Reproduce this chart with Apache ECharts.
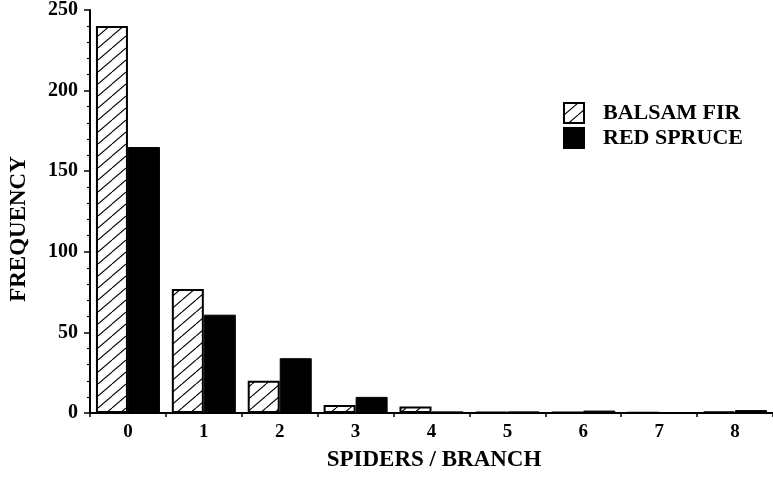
<!DOCTYPE html>
<html>
<head>
<meta charset="utf-8">
<script src="https://cdn.jsdelivr.net/npm/echarts@6/dist/echarts.min.js"></script>
<style>
  html, body { margin: 0; padding: 0; background: #fff; }
  #chart { width: 773px; height: 485px; }
</style>
</head>
<body>
<div id="chart"></div>
<script>
const categories = ["0", "1", "2", "3", "4", "5", "6", "7", "8"];
const balsamFir = [240, 77, 20, 5, 4, 0.5, 0.5, 0.3, 0.8];
const redSpruce = [165, 61, 34, 10, 1, 1, 1.5, 0.5, 1.8];
const yTicks = [0, 50, 100, 150, 200, 250];

const serif = "'Liberation Serif', 'Times New Roman', serif";

// diagonal hatch tile for the balsam fir bars
const makeHatch = () => {
    const w = 14, h = 12;
    const c = document.createElement("canvas");
    c.width = w;
    c.height = h;
    const ctx = c.getContext("2d");
    ctx.fillStyle = "#fff";
    ctx.fillRect(0, 0, w, h);
    ctx.strokeStyle = "#000";
    ctx.lineWidth = 1.1;
    ctx.beginPath();
    for (const dx of [-w, 0, w]) {
        ctx.moveTo(dx, h);
        ctx.lineTo(dx + w, 0);
    }
    ctx.stroke();
    return c;
};

const chart = echarts.init(document.getElementById("chart"), null, { renderer: "canvas" });
const option = {
    animation: false,
    backgroundColor: "#fff",
    grid: { left: 90, right: 0, top: 10, bottom: 72, containLabel: false },
    legend: {
        orient: "vertical",
        left: 563,
        top: 102,
        padding: 0,
        itemWidth: 20,
        itemHeight: 20,
        itemGap: 3,
        icon: "rect",
        textStyle: {
            color: "#000", fontFamily: serif, fontWeight: "bold", fontSize: 22,
            lineHeight: 20, padding: [0, 0, 0, 14],
        },
        data: ["BALSAM FIR", "RED SPRUCE"],
    },
    xAxis: {
        type: "category",
        data: categories,
        axisLine: { lineStyle: { color: "#000", width: 2 } },
        axisTick: { show: true, length: 4, inside: false, lineStyle: { color: "#000", width: 1.5 } },
        axisLabel: { color: "#000", fontFamily: serif, fontWeight: "bold", fontSize: 19, margin: 10 },
        splitLine: { show: false },
    },
    yAxis: {
        type: "value",
        min: yTicks[0],
        max: yTicks[yTicks.length - 1],
        interval: 50,
        axisLine: { show: true, lineStyle: { color: "#000", width: 2 } },
        axisTick: { show: true, length: 6, lineStyle: { color: "#000", width: 1.5 } },
        minorTick: { show: true, splitNumber: 5, length: 3, lineStyle: { color: "#000", width: 1.2 } },
        axisLabel: { color: "#000", fontFamily: serif, fontWeight: "bold", fontSize: 20, margin: 12 },
        splitLine: { show: false },
    },
    graphic: [
        {
            type: "text",
            x: 19,
            y: 229,
            rotation: Math.PI / 2,
            style: {
                text: "FREQUENCY",
                font: "bold 23px " + serif,
                fill: "#000",
                align: "center",
                verticalAlign: "middle",
                textAlign: "center",
                textVerticalAlign: "middle",
            },
        },
        {
            type: "text",
            x: 434,
            y: 460,
            style: {
                text: "SPIDERS / BRANCH",
                font: "bold 23px " + serif,
                fill: "#000",
                align: "center",
                verticalAlign: "middle",
                textAlign: "center",
                textVerticalAlign: "middle",
            },
        },
    ],
    series: [
        {
            name: "BALSAM FIR",
            type: "bar",
            data: balsamFir,
            barWidth: 32,
            barGap: "0%",
            itemStyle: {
                color: { image: makeHatch(), repeat: "repeat" },
                borderColor: "#000",
                borderWidth: 2,
            },
        },
        {
            name: "RED SPRUCE",
            type: "bar",
            data: redSpruce,
            barWidth: 32,
            itemStyle: { color: "#000", borderColor: "#000", borderWidth: 1 },
        },
    ],
};
chart.setOption(option);
</script>
</body>
</html>
